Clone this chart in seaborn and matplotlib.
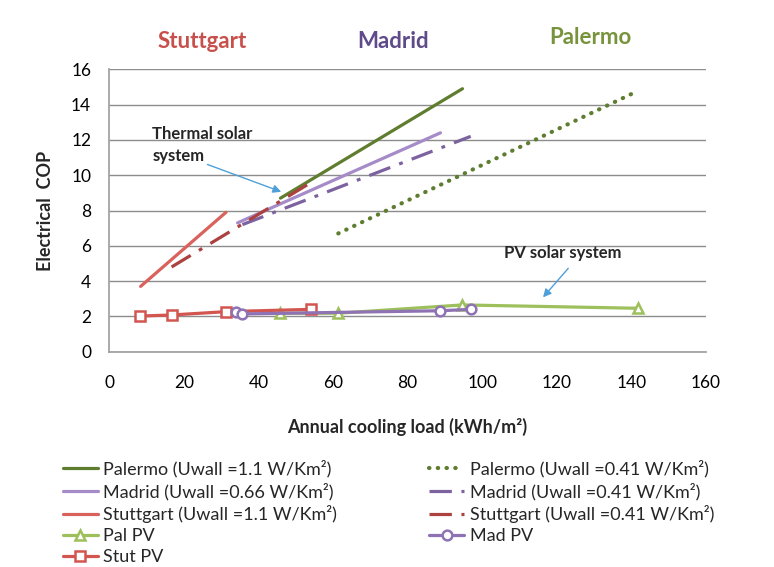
import matplotlib
matplotlib.use("Agg")
import matplotlib.pyplot as plt
import seaborn as sns
import pandas as pd

# ---- data ----
pal_11_x = [45.9, 94.7]
pal_11_y = [8.7, 14.9]
pal_041_x = [61.4, 141.0]
pal_041_y = [6.7, 14.7]
mad_066_x = [34.4, 88.8]
mad_066_y = [7.3, 12.4]
mad_041_x = [35.7, 96.9]
mad_041_y = [7.2, 12.2]
stu_11_x = [8.4, 31.3]
stu_11_y = [3.7, 7.9]
stu_041_x = [16.7, 54.2]
stu_041_y = [4.8, 9.6]
palpv_x = [45.9, 61.4, 94.7, 141.9]
palpv_y = [2.18, 2.18, 2.65, 2.46]
madpv_x = [33.9, 35.7, 88.8, 96.9]
madpv_y = [2.23, 2.14, 2.32, 2.40]
stupv_x = [8.3, 16.7, 31.4, 54.2]
stupv_y = [2.02, 2.08, 2.27, 2.40]

labels = {
    "pal11": "Palermo (Uwall =1.1 W/Km²)",
    "pal041": "Palermo (Uwall =0.41 W/Km²)",
    "mad066": "Madrid (Uwall =0.66 W/Km²)",
    "mad041": "Madrid (Uwall =0.41 W/Km²)",
    "stu11": "Stuttgart (Uwall =1.1 W/Km²)",
    "stu041": "Stuttgart (Uwall =0.41 W/Km²)",
    "palpv": "Pal PV",
    "madpv": "Mad PV",
    "stupv": "Stut PV",
}
x_ticks = [0, 20, 40, 60, 80, 100, 120, 140, 160]
y_ticks = [0, 2, 4, 6, 8, 10, 12, 14, 16]

sns.set_theme(style="white")
plt.rcParams["font.family"] = ["Lato", "DejaVu Sans"]

fig = plt.figure(figsize=(7.74, 5.67), dpi=100)
ax = fig.add_axes([109.3 / 774, 1 - 351.7 / 567, (706 - 109.3) / 774, (351.7 - 69.3) / 567])

lw = 2.3
dashdot = (0, (7, 3, 1.2, 3))
dotted = (0, (0.1, 2.0))

def draw(xs, ys, key, color, ls="-", marker=None, capstyle="butt", width=lw):
    df = pd.DataFrame({"x": xs, "y": ys})
    sns.lineplot(data=df, x="x", y="y", ax=ax, color=color, linewidth=width,
                 linestyle=ls, marker=marker, markersize=7, markeredgewidth=1.8,
                 markerfacecolor="white", markeredgecolor=color,
                 label=labels[key], sort=False, estimator=None,
                 dash_capstyle=capstyle)

draw(pal_11_x, pal_11_y, "pal11", "#5f7d2f")
draw(mad_066_x, mad_066_y, "mad066", "#a58bc8")
draw(stu_11_x, stu_11_y, "stu11", "#d9625c")
draw(palpv_x, palpv_y, "palpv", "#9dc05c", marker="^")
draw(stupv_x, stupv_y, "stupv", "#d35550", marker="s")
draw(pal_041_x, pal_041_y, "pal041", "#5f7d2f", ls=dotted, capstyle="round", width=3.0)
draw(mad_041_x, mad_041_y, "mad041", "#7c63a0", ls=dashdot)
draw(stu_041_x, stu_041_y, "stu041", "#ac423f", ls=dashdot)
draw(madpv_x, madpv_y, "madpv", "#8e72b4", marker="o")

ax.set_xlim(0, 160)
ax.set_ylim(0, 16)
ax.set_xticks(x_ticks)
ax.set_yticks(y_ticks)
ax.tick_params(axis="both", labelsize=12.5, colors="#000000", length=5, width=1,
               direction="out")
ax.tick_params(axis="x", pad=12)
ax.tick_params(axis="y", pad=8)
ax.tick_params(axis="both", color="#a0a0a0")
ax.yaxis.grid(True, color="#8c8c8c", linewidth=1)
ax.xaxis.grid(False)
for s in ["top", "right"]:
    ax.spines[s].set_visible(False)
ax.spines["left"].set_color("#a0a0a0")
ax.spines["bottom"].set_color("#a0a0a0")

ax.set_xlabel("Annual cooling load (kWh/m²)", fontsize=13, fontweight="bold", labelpad=19)
ax.set_ylabel("Electrical  COP", fontsize=13, fontweight="bold", labelpad=12)

ax.annotate("Thermal solar\nsystem", xy=(46.1, 9.06), xytext=(11.5, 11.7),
            fontsize=12, fontweight="bold", ha="left", va="center",
            linespacing=1.5,
            arrowprops=dict(arrowstyle="-|>", color="#4f9fd8", lw=1,
                            shrinkA=0, shrinkB=0, patchA=None,
                            relpos=(0.55, 0.0)))
ax.annotate("PV solar system", xy=(116.3, 3.08), xytext=(105.9, 5.6),
            fontsize=12, fontweight="bold", ha="left", va="center",
            arrowprops=dict(arrowstyle="-|>", color="#4f9fd8", lw=1,
                            shrinkA=4, shrinkB=0, relpos=(0.6, 0.0)))

fig.text(201.7 / 774, 1 - 41 / 567, "Stuttgart", color="#c8504c", fontsize=16,
         fontweight="bold", ha="center", va="center")
fig.text(393 / 774, 1 - 41 / 567, "Madrid", color="#5f4b8b", fontsize=16,
         fontweight="bold", ha="center", va="center")
fig.text(590 / 774, 1 - 38 / 567, "Palermo", color="#77933c", fontsize=16,
         fontweight="bold", ha="center", va="center")

handles, labs = ax.get_legend_handles_labels()
ax.get_legend().remove()
fig.legend(handles, labs, ncol=2, loc="upper left",
           bbox_to_anchor=(56 / 774, 1 - 453 / 567), frameon=False,
           fontsize=13, handlelength=1.9, handletextpad=0.33,
           columnspacing=5.1, labelspacing=0.27, borderaxespad=0)

fig.savefig("out.png", dpi=100)
